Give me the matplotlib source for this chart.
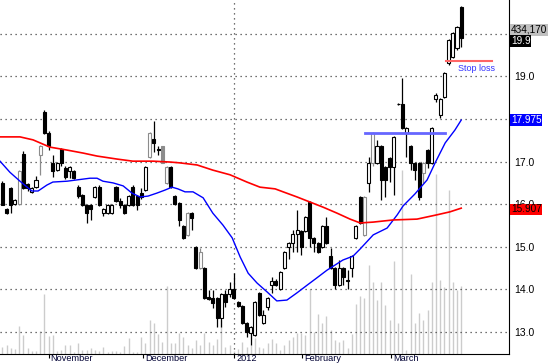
from matplotlib import pyplot as plt
from matplotlib.transforms import ScaledTranslation
import numpy as np

# ============================================================
# Data (daily bars, Oct 2011 - Mar 2012)
# ============================================================
opens = [16.50, 15.89, 16.38, 16.01, 16.00, 17.18, 16.47, 16.29, 16.40, 17.15,
         18.16, 17.67, 16.97, 16.80, 17.30, 16.85, 16.78, 16.78, 16.40, 16.22,
         15.98, 15.98, 16.17, 16.40, 15.79, 15.79, 15.79, 16.40, 16.08, 15.98,
         15.98, 16.40, 16.19, 16.26, 16.33, 17.11, 17.53, 17.30, 17.37, 16.50,
         16.87, 16.19, 16.03, 15.49, 15.28, 15.79, 14.99, 14.50, 14.50, 13.82,
         13.80, 13.80, 13.33, 13.89, 13.89, 14.01, 13.70, 13.61, 13.21, 12.98,
         12.93, 13.92, 13.21, 13.59, 14.10, 14.19, 14.01, 14.50, 14.99, 15.09,
         15.30, 15.37, 15.37, 16.05, 15.21, 15.09, 14.99, 15.49, 14.78, 14.50,
         14.10, 14.50, 14.22, 14.50, 15.21, 16.17, 15.28, 16.50, 16.97, 16.97,
         17.37, 16.87, 17.08, 16.87, 18.35, 18.35, 17.67, 17.37, 16.97, 16.97,
         16.73, 17.27, 16.97, 18.47, 18.09, 18.52, 19.32, 19.45, 19.67, 20.63]
highs = [16.54, 15.91, 16.40, 16.12, 16.80, 17.25, 16.50, 16.40, 16.66, 17.40,
         18.20, 17.72, 17.15, 17.00, 17.32, 16.90, 16.90, 16.80, 16.45, 16.25,
         16.00, 16.00, 16.43, 16.45, 15.91, 16.00, 16.00, 16.43, 16.15, 16.00,
         16.22, 16.45, 16.22, 16.38, 16.90, 17.69, 17.95, 17.37, 17.37, 16.90,
         16.90, 16.22, 16.05, 15.51, 15.81, 15.81, 15.01, 14.97, 14.52, 13.99,
         13.99, 13.82, 13.91, 13.99, 14.17, 14.38, 13.72, 13.63, 13.23, 13.14,
         13.72, 13.94, 13.52, 13.82, 14.29, 14.24, 14.43, 14.90, 15.11, 15.39,
         15.86, 15.39, 15.72, 16.08, 15.23, 15.11, 15.51, 15.70, 14.97, 14.52,
         14.69, 14.52, 14.45, 14.80, 15.51, 16.19, 16.19, 17.11, 17.69, 17.51,
         17.39, 16.90, 17.11, 17.60, 18.38, 18.96, 17.81, 17.39, 16.99, 16.99,
         16.99, 17.30, 17.81, 18.61, 18.50, 19.10, 19.88, 20.05, 20.19, 20.66]
lows = [15.98, 15.77, 15.79, 15.98, 15.98, 16.35, 16.31, 16.27, 16.38, 16.69,
        17.65, 17.27, 16.64, 16.78, 16.90, 16.60, 16.62, 16.60, 16.15, 15.95,
        15.55, 15.63, 16.15, 15.95, 15.72, 15.77, 15.77, 16.05, 15.91, 15.77,
        15.96, 15.96, 15.86, 16.12, 16.30, 17.08, 17.22, 17.15, 16.97, 16.47,
        16.38, 15.98, 15.49, 15.19, 15.26, 15.39, 14.48, 14.48, 13.78, 13.75,
        13.56, 13.12, 13.12, 13.59, 13.82, 13.78, 13.59, 13.19, 12.88, 12.70,
        12.90, 13.38, 13.19, 13.52, 13.92, 14.08, 13.99, 14.48, 14.71, 14.88,
        14.88, 14.81, 15.35, 14.99, 14.88, 14.85, 14.97, 15.07, 14.48, 14.01,
        14.08, 14.10, 14.01, 14.29, 15.19, 15.54, 15.26, 16.29, 16.90, 16.95,
        16.10, 16.17, 16.52, 16.22, 18.33, 17.77, 17.11, 16.80, 16.57, 16.10,
        16.50, 16.85, 16.95, 18.40, 18.02, 18.50, 19.27, 19.43, 19.62, 19.69]
closes = [15.98, 15.79, 15.98, 16.10, 16.78, 16.38, 16.38, 16.38, 16.57, 17.37,
          17.67, 17.37, 16.78, 16.97, 16.97, 16.64, 16.87, 16.62, 16.19, 15.98,
          15.79, 15.89, 16.40, 15.98, 15.89, 15.98, 15.98, 16.08, 15.98, 15.79,
          16.19, 15.98, 15.98, 16.17, 16.87, 17.67, 17.44, 17.27, 16.97, 16.87,
          16.40, 16.00, 15.63, 15.21, 15.79, 15.67, 14.50, 14.88, 13.80, 13.78,
          13.68, 13.33, 13.89, 13.70, 14.01, 13.80, 13.61, 13.21, 13.00, 13.12,
          13.70, 13.40, 13.40, 13.80, 14.19, 14.10, 14.41, 14.88, 15.09, 15.30,
          15.39, 14.99, 15.70, 15.21, 15.09, 14.88, 15.49, 15.09, 14.50, 14.10,
          14.50, 14.29, 14.19, 14.78, 15.49, 15.56, 16.17, 16.97, 17.67, 17.37,
          16.57, 16.57, 16.87, 17.58, 18.36, 17.79, 17.79, 16.97, 16.80, 16.17,
          16.97, 16.97, 17.79, 18.56, 18.47, 19.08, 19.86, 20.02, 20.16, 19.90]
# volume in thousands of shares
volume = [45, 57, 38, 32, 179, 121, 38, 19, 22, 147,
          383, 115, 121, 19, 26, 57, 57, 13, 70, 26,
          26, 38, 26, 19, 45, 13, 19, 19, 13, 51,
          102, 13, 13, 109, 70, 217, 198, 128, 77, 434,
          70, 70, 134, 109, 57, 38, 89, 57, 134, 77,
          57, 96, 217, 45, 57, 19, 32, 77, 45, 57,
          102, 45, 38, 70, 96, 70, 26, 57, 89, 109,
          134, 134, 121, 415, 140, 255, 198, 243, 153, 89,
          77, 89, 38, 128, 319, 370, 358, 568, 460, 345,
          460, 313, 217, 594, 198, 1175, 26, 511, 198, 262,
          217, 281, 460, 1149, 472, 428, 1047, 460, 409, 434]
gray_bars = [4, 9, 35, 38, 39, 44, 47, 86, 88, 100]

# moving averages, read at points along the lines (bar index, price)
ma_short_x = [-0.55, 1.8, 4.2, 5.9, 7.0, 8.5, 10.6, 12.0, 15.4, 17.7, 20.8, 22.5,
              23.9, 26.3, 28.7, 30.8, 32.7, 34.6, 36.7, 38.6, 40.3, 41.7, 43.4,
              45.3, 47.7, 50.0, 52.4, 54.6, 56.5, 58.4, 60.5, 62.9, 65.2, 67.6,
              70.0, 72.4, 74.7, 77.1, 80.9, 83.3, 85.0, 88.1, 91.4, 93.8, 95.2,
              98.0, 100.9, 102.8, 105.2, 107.5, 109.0]
ma_short_y = [17.01, 16.75, 16.54, 16.40, 16.31, 16.31, 16.45, 16.52, 16.54, 16.57,
              16.61, 16.61, 16.54, 16.50, 16.43, 16.26, 16.17, 16.19, 16.26, 16.33,
              16.40, 16.36, 16.29, 16.29, 16.15, 15.79, 15.51, 15.21, 14.76, 14.38,
              14.15, 13.94, 13.73, 13.75, 13.92, 14.10, 14.27, 14.45, 14.69, 14.78,
              14.95, 15.28, 15.44, 15.75, 15.96, 16.24, 16.57, 16.97, 17.44, 17.74,
              17.975]
ma_long_x = [-0.55, 4.2, 7.3, 11.3, 15.4, 19.2, 22.5, 27.2, 31.0, 35.8, 39.8, 42.2,
             46.3, 50.0, 54.1, 58.1, 61.2, 64.8, 66.7, 70.0, 73.1, 76.2, 79.5,
             82.6, 85.0, 88.1, 92.8, 98.5, 103.2, 106.3, 109.0]
ma_long_y = [17.58, 17.58, 17.51, 17.34, 17.27, 17.20, 17.13, 17.06, 17.01, 17.01,
             16.99, 16.97, 16.92, 16.80, 16.69, 16.52, 16.40, 16.36, 16.29, 16.17,
             16.05, 15.93, 15.79, 15.65, 15.56, 15.58, 15.63, 15.65, 15.75, 15.82,
             15.907]

month_pos = [11.0, 33.4, 55.1, 71.3, 92.3]
month_labels = ['November', 'December', '2012', 'February', 'March']
price_ticks = [13.0, 14.0, 15.0, 16.0, 17.0, 18.0, 19.0, 20.0]

resistance = 17.68
resistance_span = [86.2, 105.2]
stop_loss = 19.37
stop_span = [105.5, 116.3]

# ============================================================
# Plot
# ============================================================
plt.rcParams['font.family'] = ['Liberation Sans', 'DejaVu Sans']
fig = plt.figure(figsize=(5.5, 3.64), dpi=100)
ax = fig.add_axes([0, 10 / 364, 509 / 550, 354 / 364])
vax = ax.twinx()

# volume behind the price bars
idx = np.arange(len(closes))
vax.vlines(idx, 0, volume, color='#cccccc', lw=1.0)
vax.set_ylim(0, 2260)
vax.set_yticks([])
for s in vax.spines.values():
    s.set_visible(False)
ax.set_zorder(vax.get_zorder() + 1)
ax.patch.set_visible(False)

# dotted grid
for p in price_ticks:
    ax.axhline(p, color='#444444', lw=0.9, ls=(0, (1, 3)), zorder=1)
ax.axvline(month_pos[2], color='#444444', lw=0.9, ls=(0, (1, 3)), zorder=1)

# candles
o = np.array(opens)
c = np.array(closes)
edge = ['#8c8c8c' if i in gray_bars else 'black' for i in idx]
face = []
for i in idx:
    if c[i] >= o[i]:
        face.append('white')
    else:
        face.append(edge[i])
ax.vlines(idx, lows, highs, colors=edge, lw=0.9, zorder=3)
body_lo = np.minimum(o, c)
body_h = np.maximum(np.abs(c - o), 0.01)
ax.bar(idx, body_h, bottom=body_lo, width=0.72, color=face, edgecolor=edge,
       linewidth=0.8, zorder=4)

# moving averages
ax.plot(ma_short_x, ma_short_y, color='#0000ff', lw=1.0, zorder=5)
ax.plot(ma_long_x, ma_long_y, color='#ff0000', lw=1.2, zorder=5)

# resistance line and stop loss
ax.plot(resistance_span, [resistance, resistance], color='#6666ff', lw=2, zorder=6)
ax.plot(stop_span, [stop_loss, stop_loss], color='#ff6666', lw=1.5, zorder=6)
ax.text(108.3, stop_loss - 0.08, 'Stop loss', color='#3333ff', fontsize=6.5,
        va='top', ha='left', zorder=7)

# axes
ax.set_xlim(-0.55, 120.35)
ax.set_ylim(12.484, 20.793)
ax.yaxis.tick_right()
ax.set_yticks(price_ticks)
# 18.0 and 20.0 sit under the value boxes, so they are left blank
ax.set_yticklabels(['' if p in (18.0, 20.0) else '%.1f' % p for p in price_ticks])
ax.tick_params(axis='y', length=0, pad=4, labelsize=7.5)
ax.set_xticks(month_pos)
ax.set_xticklabels(month_labels, ha='left')
ax.tick_params(axis='x', length=3, pad=-3, labelsize=6.6, labelcolor='#000033')
# month names start just right of their tick mark
shift = ScaledTranslation(2 / 100, 0, fig.dpi_scale_trans)
for lab in ax.get_xticklabels():
    lab.set_transform(lab.get_transform() + shift)
ax.spines['top'].set_visible(False)
ax.spines['left'].set_visible(False)

# value boxes on the right axis
yt = ax.get_yaxis_transform()
boxes = [(20.09, '434,170', '#c0c0c0', 'black'),
         (19.83, '19.9', 'black', 'white'),
         (17.975, '17.975', '#0000ff', 'white'),
         (15.88, '15.907', '#ff0000', 'black')]
for yv, txt, bg, fg in boxes:
    ax.text(1.004, yv, txt, transform=yt, fontsize=7.2, color=fg, va='center',
            ha='left', zorder=10,
            bbox=dict(boxstyle='square,pad=0.06', fc=bg, ec='none'))

fig.savefig('out.png', dpi=100)
